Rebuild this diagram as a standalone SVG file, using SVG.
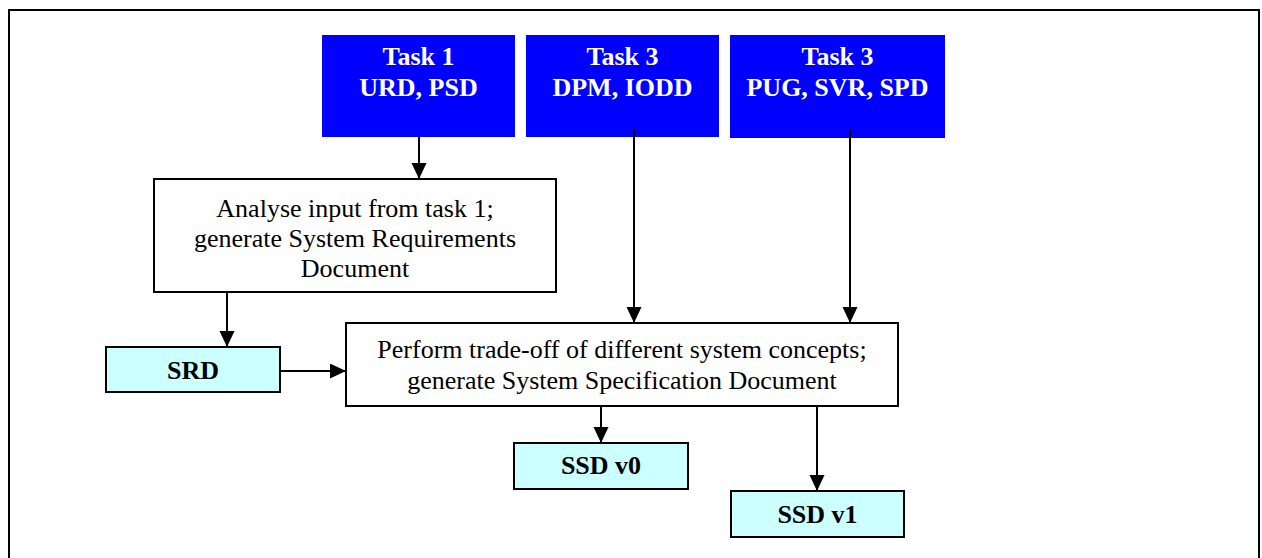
<svg xmlns="http://www.w3.org/2000/svg" width="1262" height="558" viewBox="0 0 1262 558">
  <defs>
    <style>
      .frame { fill: none; stroke: #000; stroke-width: 2; }
      .task { fill: #0000FF; }
      .task-text { font-size: 26px; font-weight: bold; fill: #FFFFFF; text-anchor: middle; }
      .proc { fill: #FFFFFF; stroke: #000; stroke-width: 2; }
      .proc-text { font-size: 26px; fill: #000; text-anchor: middle; }
      .doc { fill: #CCFFFF; stroke: #000; stroke-width: 2; }
      .doc-text { font-size: 26px; font-weight: bold; fill: #000; text-anchor: middle; }
      .conn { fill: none; stroke: #000; stroke-width: 2; marker-end: url(#arrow); }
    </style>
    <marker id="arrow" markerUnits="userSpaceOnUse" markerWidth="16" markerHeight="16" refX="16" refY="7.5" orient="auto">
      <path d="M0,0 L16,7.5 L0,15 Z" fill="#000"/>
    </marker>
  </defs>

  <rect width="1262" height="558" fill="#FFFFFF"/>
  <!-- page frame, open at the bottom -->
  <path class="frame" d="M9,558 V10 H1259 V558"/>

  <g font-family="Liberation Serif, Times New Roman, Times, serif">
    <!-- input tasks -->
    <g id="task1">
      <rect class="task" x="322" y="35" width="193" height="102"/>
      <text class="task-text" x="418.5" y="65">Task 1</text>
      <text class="task-text" x="418.5" y="96">URD, PSD</text>
    </g>
    <g id="task3-dpm">
      <rect class="task" x="526" y="35" width="193" height="102"/>
      <text class="task-text" x="622.5" y="65">Task 3</text>
      <text class="task-text" x="622.5" y="96">DPM, IODD</text>
    </g>
    <g id="task3-pug">
      <rect class="task" x="730" y="35" width="215" height="103"/>
      <text class="task-text" x="837.5" y="65">Task 3</text>
      <text class="task-text" x="837.5" y="96">PUG, SVR, SPD</text>
    </g>

    <!-- processing steps -->
    <g id="analyse">
      <rect class="proc" x="154" y="179" width="402" height="113"/>
      <text class="proc-text" x="355" y="217">Analyse input from task 1;</text>
      <text class="proc-text" x="355" y="247">generate System Requirements</text>
      <text class="proc-text" x="355" y="277">Document</text>
    </g>
    <g id="tradeoff">
      <rect class="proc" x="346" y="323" width="552" height="83"/>
      <text class="proc-text" x="622" y="358">Perform trade-off of different system concepts;</text>
      <text class="proc-text" x="622" y="389">generate System Specification Document</text>
    </g>

    <!-- output documents -->
    <g id="srd">
      <rect class="doc" x="106" y="347" width="174" height="45"/>
      <text class="doc-text" x="193" y="379">SRD</text>
    </g>
    <g id="ssd-v0">
      <rect class="doc" x="514" y="443" width="174" height="46"/>
      <text class="doc-text" x="601" y="474">SSD v0</text>
    </g>
    <g id="ssd-v1">
      <rect class="doc" x="731" y="491" width="173" height="46"/>
      <text class="doc-text" x="817.5" y="523">SSD v1</text>
    </g>
  </g>

  <!-- connectors -->
  <g id="connectors">
    <path class="conn" d="M419,137 V179"/>
    <path class="conn" d="M634,130 V323"/>
    <path class="conn" d="M850,130 V323"/>
    <path class="conn" d="M227,292 V347"/>
    <path class="conn" d="M280,371 H346"/>
    <path class="conn" d="M601,406 V443"/>
    <path class="conn" d="M817,406 V491"/>
  </g>
</svg>
